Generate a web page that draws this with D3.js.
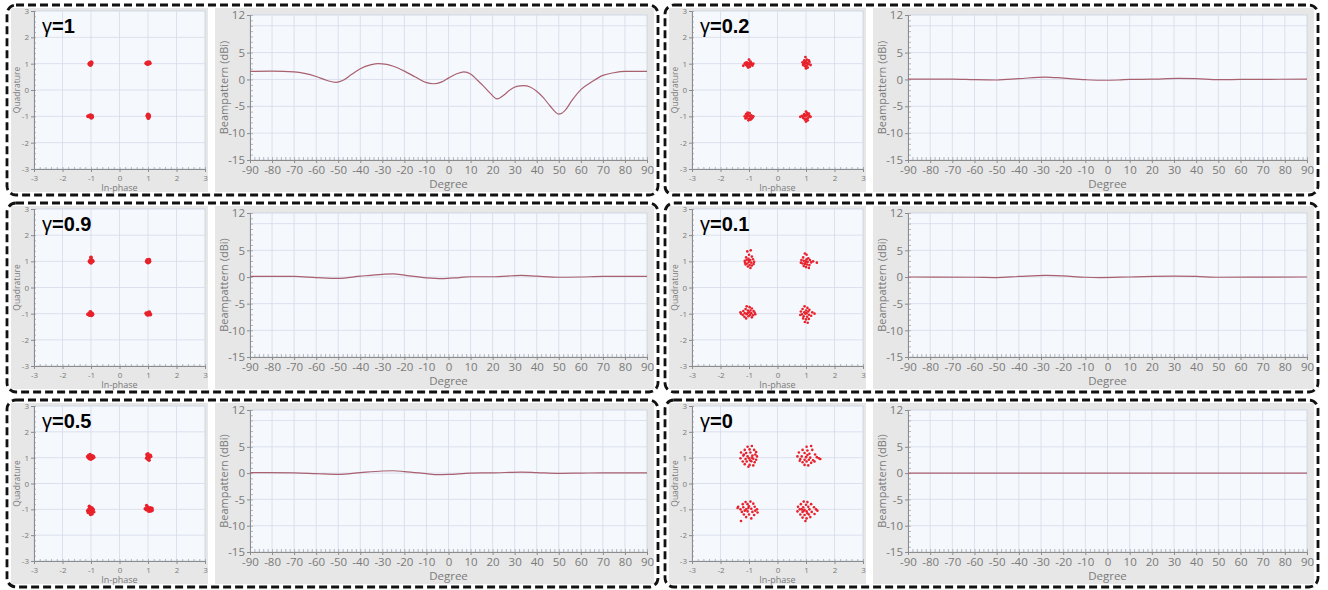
<!DOCTYPE html>
<html>
<head>
<meta charset="utf-8">
<script src="https://cdn.jsdelivr.net/npm/d3@7"></script>
<style>
  body { margin: 0; background: #fff; }
  svg { display: block; }
</style>
</head>
<body>
<svg id="chart" width="1328" height="590"></svg>
<script>
// gamma labels, panel order: row by row, left then right
const gammaLabels = ['1', '0.2', '0.9', '0.1', '0.5', '0'];

// constellation points (In-phase, Quadrature) per gamma
const iqG1 = [
  [-1.04,1.02],[-1.0,0.98],[-0.98,1.03],[-1.06,0.99],[-1.02,0.95],[-0.99,1.05],[-1.03,1.0],[-1.01,1.01],
  [0.94,1.02],[0.98,1.04],[1.02,1.03],[1.06,1.02],[1.0,0.99],[0.97,1.0],[1.04,1.05],[1.01,1.02],
  [-1.1,-1.0],[-1.05,-0.99],[-1.0,-1.02],[-0.97,-0.98],[-0.96,-1.03],[-1.02,-0.96],[-0.99,-1.05],[-1.03,-1.01],
  [1.0,-0.93],[1.03,-0.96],[0.99,-1.0],[1.02,-1.04],[1.04,-0.99],[0.98,-0.97],[1.01,-1.06],[1.03,-1.01]
];
const iqG09 = [
  [-1.0,1.15],[-1.02,1.03],[-0.98,0.99],[-1.05,1.0],[-0.96,1.02],[-1.0,0.95],[-1.03,0.97],[-0.99,1.04],[-0.94,1.0],
  [0.98,1.05],[1.02,1.03],[1.05,1.0],[0.96,1.0],[1.0,0.96],[1.03,0.97],[0.99,1.01],[1.04,1.06],[0.97,0.98],
  [-1.1,-1.02],[-1.04,-0.98],[-1.0,-1.03],[-0.97,-0.99],[-1.02,-0.94],[-0.98,-1.06],[-1.05,-1.05],[-0.95,-1.02],[-1.01,-1.0],
  [0.94,-0.98],[0.98,-1.0],[1.02,-0.97],[1.06,-1.01],[1.0,-1.04],[1.04,-0.95],[0.97,-1.03],[1.08,-1.03],[1.01,-0.99]
];
const iqG05 = [
  [-1.12,1.05],[-1.08,1.1],[-1.05,1.0],[-1.02,1.07],[-0.98,1.03],[-0.94,0.98],[-0.9,1.02],[-1.0,0.94],[-1.06,0.96],[-0.96,1.08],[-1.1,1.0],[-1.03,1.12],[-0.92,1.06],[-1.0,1.0],
  [0.96,1.12],[1.0,1.15],[1.05,1.08],[1.08,1.1],[0.98,1.04],[1.03,1.0],[1.06,1.03],[0.95,0.98],[1.0,0.93],[1.04,0.9],[1.1,1.05],[0.99,1.07],[1.02,0.97],[0.97,1.01],
  [-1.12,-1.05],[-1.06,-0.88],[-1.02,-0.92],[-0.96,-0.95],[-1.08,-1.0],[-1.0,-1.02],[-0.94,-1.05],[-1.04,-1.1],[-0.98,-1.14],[-1.1,-1.12],[-1.02,-1.2],[-0.9,-1.1],[-1.06,-0.98],[-0.96,-1.18],[-1.0,-1.08],[-0.92,-1.0],
  [0.9,-0.98],[0.95,-0.85],[0.96,-0.95],[1.0,-0.92],[1.04,-0.96],[1.08,-0.94],[1.12,-1.0],[1.15,-1.04],[1.06,-1.02],[1.0,-1.04],[0.94,-1.02],[1.1,-1.07],[1.03,-1.08],[1.14,-0.96],[0.98,-1.0]
];
const iqG02 = [
  [-1.2,0.92],[-1.15,1.0],[-1.1,0.95],[-1.08,1.05],[-1.05,0.9],[-1.02,1.0],[-0.98,0.95],[-0.95,1.08],[-0.92,0.98],[-0.88,0.93],[-0.85,1.0],[-1.0,1.15],[-1.03,0.85],[-0.97,0.88],[-1.12,1.03],[-0.93,1.03],[-1.06,0.97],[-1.0,1.02],
  [0.88,1.05],[0.9,0.95],[0.94,1.12],[0.96,1.0],[0.98,1.25],[1.0,1.08],[1.02,0.92],[1.04,1.02],[1.06,0.85],[1.08,0.98],[1.12,1.06],[1.16,0.95],[0.92,1.0],[1.0,0.82],[0.97,0.9],[1.1,1.12],[1.03,1.15],[0.95,1.04],
  [-1.15,-1.0],[-1.1,-0.92],[-1.08,-1.06],[-1.04,-0.95],[-1.0,-1.1],[-0.98,-0.88],[-0.96,-1.02],[-0.92,-0.96],[-0.88,-1.05],[-0.85,-1.0],[-1.02,-1.15],[-0.94,-1.12],[-1.06,-1.0],[-1.12,-1.08],[-0.99,-0.98],[-0.9,-1.08],[-1.05,-0.86],
  [0.8,-1.02],[0.86,-0.98],[0.9,-1.06],[0.94,-0.92],[0.98,-1.0],[1.0,-0.82],[1.02,-1.1],[1.05,-0.95],[1.08,-1.05],[1.12,-0.98],[1.16,-1.02],[0.96,-1.12],[1.0,-1.2],[1.04,-0.88],[0.92,-1.0],[1.1,-0.9],[1.06,-1.15],[0.97,-0.96]
];
const iqG01 = [
  [-1.06,1.38],[-0.94,1.42],[-1.0,1.25],[-1.1,1.15],[-0.9,1.18],[-1.15,1.02],[-1.08,1.05],[-1.02,1.1],[-0.96,1.05],[-0.86,1.08],[-0.82,0.98],[-0.92,0.95],[-1.0,0.98],[-1.06,0.92],[-1.12,0.88],[-0.98,0.86],[-0.9,0.84],[-1.04,0.8],[-0.95,0.75],[-1.14,0.95],[-0.84,0.9],[-1.0,1.02],
  [0.96,1.3],[1.02,1.25],[0.9,1.15],[1.08,1.12],[1.14,1.05],[0.84,1.05],[0.92,1.02],[1.0,1.0],[1.06,0.98],[1.18,0.96],[1.38,0.95],[0.88,0.92],[0.96,0.9],[1.04,0.88],[1.12,0.86],[0.92,0.82],[1.0,0.78],[1.1,0.75],[0.82,0.95],[1.25,1.0],[1.02,1.08],[0.98,0.95],
  [-1.08,-0.72],[-0.98,-0.75],[-1.12,-0.82],[-0.9,-0.8],[-1.2,-0.9],[-1.04,-0.88],[-0.84,-0.9],[-1.3,-0.95],[-1.15,-0.98],[-1.0,-0.95],[-0.92,-0.98],[-0.8,-0.96],[-1.22,-1.05],[-1.08,-1.02],[-0.96,-1.05],[-0.86,-1.06],[-1.16,-1.12],[-1.02,-1.1],[-0.9,-1.14],[-1.1,-1.18],[-1.28,-1.0],[-0.95,-0.88],[-1.05,-0.98],[-0.78,-1.02],
  [0.95,-0.72],[1.05,-0.78],[0.88,-0.82],[1.12,-0.85],[1.0,-0.88],[0.82,-0.92],[0.94,-0.95],[1.08,-0.92],[1.22,-0.95],[1.3,-1.0],[0.86,-1.02],[0.98,-1.0],[1.1,-1.04],[0.92,-1.1],[1.04,-1.12],[1.18,-1.08],[0.9,-1.18],[1.0,-1.22],[1.1,-1.2],[0.96,-1.32],[1.06,-1.35],[0.8,-1.05],[1.02,-0.98]
];
const iqG0 = [
  [-1.05,1.42],[-0.9,1.45],[-1.15,1.3],[-0.98,1.32],[-0.82,1.3],[-1.28,1.2],[-1.1,1.18],[-0.95,1.2],[-0.75,1.22],[-1.2,1.08],[-1.05,1.05],[-0.88,1.08],[-0.72,1.05],[-1.3,0.98],[-1.12,0.95],[-1.0,0.98],[-0.85,0.96],[-0.75,0.92],[-1.22,0.85],[-1.08,0.85],[-0.92,0.86],[-0.8,0.82],[-1.15,0.75],[-0.98,0.72],[-0.85,0.7],[-1.02,0.65],[-0.9,1.0],[-1.18,1.12],[-0.96,0.9],[-0.78,1.12],
  [1.02,1.42],[1.18,1.45],[0.88,1.3],[1.05,1.28],[1.22,1.3],[0.75,1.2],[0.95,1.18],[1.12,1.15],[1.32,1.12],[0.7,1.05],[0.85,1.05],[1.0,1.02],[1.15,1.0],[1.38,1.02],[0.8,0.95],[0.95,0.92],[1.1,0.92],[1.25,0.9],[1.5,0.95],[0.88,0.82],[1.02,0.85],[1.18,0.8],[0.95,0.72],[1.08,0.7],[1.3,0.85],[0.78,0.88],[1.45,0.98],[1.05,1.1],
  [-1.12,-0.72],[-0.95,-0.7],[-1.22,-0.8],[-1.05,-0.8],[-0.85,-0.78],[-1.38,-0.9],[-1.2,-0.92],[-1.0,-0.88],[-0.8,-0.9],[-1.3,-1.0],[-1.1,-1.0],[-0.92,-0.98],[-0.72,-1.0],[-1.25,-1.1],[-1.05,-1.08],[-0.88,-1.1],[-0.7,-1.12],[-1.18,-1.2],[-1.0,-1.2],[-0.82,-1.22],[-1.1,-1.3],[-0.92,-1.35],[-1.28,-1.45],[-1.4,-0.95],[-1.02,-0.95],[-0.78,-1.05],[-1.15,-1.05],
  [0.92,-0.7],[1.05,-0.72],[0.82,-0.8],[1.0,-0.82],[1.18,-0.8],[0.72,-0.9],[0.9,-0.92],[1.08,-0.9],[1.28,-0.92],[0.78,-1.0],[0.95,-1.02],[1.12,-1.0],[1.35,-1.0],[0.7,-1.08],[0.88,-1.1],[1.02,-1.08],[1.2,-1.1],[0.8,-1.2],[0.95,-1.22],[1.1,-1.2],[1.3,-1.18],[0.88,-1.32],[1.02,-1.35],[1.15,-1.3],[0.98,-1.45],[1.4,-1.05],[0.85,-1.0],[1.05,-1.15],[0.92,-1.05]
];

// beampattern (degree, dBi) per gamma
const beamG1 = [[-90,1.5],[-80,1.55],[-70,1.4],[-60,0.55],[-55,-0.2],[-51,-0.55],[-48,-0.2],[-44,0.9],[-40,2.0],[-35,2.75],[-32,2.95],[-28,2.8],[-25,2.45],[-20,1.55],[-15,0.45],[-10,-0.6],[-7,-0.8],[-3,-0.45],[0,0.25],[4,1.1],[7,1.4],[10,1.0],[13,-0.1],[16,-1.3],[19,-2.6],[22,-3.6],[25,-2.95],[28,-1.9],[31,-1.3],[34,-1.15],[37,-1.4],[40,-2.2],[43,-3.4],[46,-4.9],[50,-6.45],[53,-5.7],[56,-3.9],[60,-1.9],[65,-0.45],[70,0.75],[75,1.25],[80,1.5],[90,1.5]];
const beamG09 = [[-90,0.1],[-70,0.1],[-60,-0.1],[-50,-0.25],[-40,0.15],[-30,0.5],[-25,0.6],[-20,0.35],[-10,-0.15],[-3,-0.3],[5,-0.1],[10,0.05],[20,0.05],[33,0.3],[40,0.15],[50,-0.05],[60,0],[70,0.1],[90,0.1]];
const beamG05 = [[-90,0.1],[-70,0.05],[-60,-0.1],[-50,-0.25],[-40,0.1],[-30,0.4],[-25,0.45],[-20,0.3],[-10,-0.1],[-5,-0.3],[0,-0.25],[10,0],[20,0.05],[33,0.2],[40,0.1],[50,-0.05],[60,0],[70,0.05],[90,0.05]];
const beamG02 = [[-90,0.05],[-70,0.05],[-60,-0.05],[-50,-0.1],[-40,0.15],[-28,0.45],[-20,0.25],[-10,-0.05],[-3,-0.15],[5,-0.1],[10,0],[20,0.05],[32,0.2],[40,0.15],[50,-0.05],[60,0],[90,0.05]];
const beamG01 = [[-90,0],[-60,-0.05],[-50,-0.1],[-40,0.1],[-28,0.3],[-20,0.2],[-10,-0.05],[-3,-0.1],[10,0],[30,0.15],[40,0.1],[50,-0.05],[90,0]];
const beamG0 = [[-90,0],[90,0]];

// tick labels
const iqTicks = [-3, -2, -1, 0, 1, 2, 3];
const degTicks = [-90, -80, -70, -60, -50, -40, -30, -20, -10, 0, 10, 20, 30, 40, 50, 60, 70, 80, 90];
const dbTicks = [12, 5, 0, -5, -10, -15];
const dbGrid = [10, 5, 0, -5, -10];

const panels = [
  { label: gammaLabels[0], iq: iqG1, beam: beamG1, dot: 2.0 },
  { label: gammaLabels[1], iq: iqG02, beam: beamG02, dot: 1.4 },
  { label: gammaLabels[2], iq: iqG09, beam: beamG09, dot: 2.0 },
  { label: gammaLabels[3], iq: iqG01, beam: beamG01, dot: 1.3 },
  { label: gammaLabels[4], iq: iqG05, beam: beamG05, dot: 1.7 },
  { label: gammaLabels[5], iq: iqG0, beam: beamG0, dot: 1.3 }
];

const colX = [7, 665];
const panelW = [651, 653];
const rowY = [5, 203, 400];
const rowH = [190, 189, 187];

const grey = '#e7e7e7';
const plotBg = '#f5f8fd';
const gridColor = '#d5dbe8';
const axisColor = '#8c8c8c';
const labelColor = '#7a7a7a';
const sansFont = "'Open Sans', 'Noto Sans', sans-serif";
const plain = d => String(d);   // hyphen minus, no decimals

const svg = d3.select('#chart');

function styleAxis(sel, size) {
  sel.select('.domain').attr('stroke', axisColor);
  sel.selectAll('.tick line').attr('stroke', axisColor);
  sel.selectAll('.tick text')
    .attr('fill', labelColor)
    .attr('font-size', size)
    .attr('font-family', sansFont);
}

panels.forEach((p, i) => {
  const col = i % 2, row = Math.floor(i / 2);
  const w = panelW[col], h = rowH[row];
  const g = svg.append('g').attr('transform', `translate(${colX[col]},${rowY[row]})`);

  // grey backgrounds
  g.append('rect').attr('x', 4).attr('y', 3).attr('width', 197).attr('height', h - 6).attr('fill', grey);
  g.append('rect').attr('x', 208).attr('y', 3).attr('width', w - 212).attr('height', h - 6).attr('fill', grey);

  // ---- constellation ----
  const sx = d3.scaleLinear().domain([-3, 3]).range([27, 198]);
  const sy = d3.scaleLinear().domain([-3, 3]).range([h - 26, 6]);
  const sc = g.append('g');

  sc.append('rect')
    .attr('x', sx(-3)).attr('y', sy(3))
    .attr('width', sx(3) - sx(-3)).attr('height', sy(-3) - sy(3))
    .attr('fill', plotBg).attr('stroke', '#c9d1e0').attr('stroke-width', 0.8);

  sc.append('g').selectAll('line').data(iqTicks.slice(1, -1)).join('line')
    .attr('x1', d => sx(d)).attr('x2', d => sx(d))
    .attr('y1', sy(3)).attr('y2', sy(-3))
    .attr('stroke', gridColor).attr('stroke-width', 0.8);
  sc.append('g').selectAll('line').data(iqTicks.slice(1, -1)).join('line')
    .attr('y1', d => sy(d)).attr('y2', d => sy(d))
    .attr('x1', sx(-3)).attr('x2', sx(3))
    .attr('stroke', gridColor).attr('stroke-width', 0.8);

  // minor ticks
  sc.append('g').attr('transform', `translate(0,${sy(-3)})`)
    .call(d3.axisBottom(sx).tickValues(d3.range(-3, 3.01, 0.2)).tickSize(-2).tickFormat(''))
    .call(s => { s.select('.domain').remove(); s.selectAll('line').attr('stroke', axisColor).attr('stroke-width', 0.6); });
  sc.append('g').attr('transform', `translate(${sx(-3)},0)`)
    .call(d3.axisLeft(sy).tickValues(d3.range(-3, 3.01, 0.2)).tickSize(-2).tickFormat(''))
    .call(s => { s.select('.domain').remove(); s.selectAll('line').attr('stroke', axisColor).attr('stroke-width', 0.6); });

  sc.append('g').attr('transform', `translate(0,${sy(-3)})`)
    .call(d3.axisBottom(sx).tickValues(iqTicks).tickFormat(plain).tickSize(3).tickPadding(3))
    .call(s => styleAxis(s, 8));
  sc.append('g').attr('transform', `translate(${sx(-3)},0)`)
    .call(d3.axisLeft(sy).tickValues(iqTicks).tickFormat(plain).tickSize(3).tickPadding(2))
    .call(s => styleAxis(s, 8));

  sc.append('text')
    .attr('x', (sx(-3) + sx(3)) / 2).attr('y', h - 4)
    .attr('text-anchor', 'middle').attr('font-size', 9).attr('font-family', sansFont)
    .attr('fill', labelColor).text('In-phase');
  sc.append('text')
    .attr('transform', `translate(13,${(sy(-3) + sy(3)) / 2}) rotate(-90)`)
    .attr('text-anchor', 'middle').attr('font-size', 8.5).attr('font-family', sansFont)
    .attr('fill', labelColor).text('Quadrature');

  sc.append('g').selectAll('circle').data(p.iq).join('circle')
    .attr('cx', d => sx(d[0])).attr('cy', d => sy(d[1]))
    .attr('r', p.dot).attr('fill', '#e8212b');

  const title = sc.append('text').attr('x', 35).attr('y', 28)
    .attr('font-family', "'Liberation Sans', Arial, sans-serif").attr('font-size', 20).attr('fill', '#000');
  title.append('tspan').text('γ');
  title.append('tspan').attr('font-weight', 'bold').text('=' + p.label);

  // ---- beampattern ----
  const lx = d3.scaleLinear().domain([-90, 90]).range([243, w - 11]);
  const ly = d3.scaleLinear().domain([-15, 12]).range([h - 35, 10]);
  const lc = g.append('g');

  lc.append('rect')
    .attr('x', lx(-90)).attr('y', ly(12))
    .attr('width', lx(90) - lx(-90)).attr('height', ly(-15) - ly(12))
    .attr('fill', plotBg).attr('stroke', '#c9d1e0').attr('stroke-width', 0.8);

  lc.append('g').selectAll('line').data(degTicks.slice(1, -1)).join('line')
    .attr('x1', d => lx(d)).attr('x2', d => lx(d))
    .attr('y1', ly(12)).attr('y2', ly(-15))
    .attr('stroke', gridColor).attr('stroke-width', 0.8);
  lc.append('g').selectAll('line').data(dbGrid).join('line')
    .attr('y1', d => ly(d)).attr('y2', d => ly(d))
    .attr('x1', lx(-90)).attr('x2', lx(90))
    .attr('stroke', gridColor).attr('stroke-width', 0.8);

  lc.append('g').attr('transform', `translate(0,${ly(-15)})`)
    .call(d3.axisBottom(lx).tickValues(d3.range(-90, 91, 2)).tickSize(-3).tickFormat(''))
    .call(s => { s.select('.domain').remove(); s.selectAll('line').attr('stroke', axisColor).attr('stroke-width', 0.6); });
  lc.append('g').attr('transform', `translate(${lx(-90)},0)`)
    .call(d3.axisLeft(ly).tickValues(d3.range(-15, 12.1, 1)).tickSize(-3).tickFormat(''))
    .call(s => { s.select('.domain').remove(); s.selectAll('line').attr('stroke', axisColor).attr('stroke-width', 0.6); });

  lc.append('g').attr('transform', `translate(0,${ly(-15)})`)
    .call(d3.axisBottom(lx).tickValues(degTicks).tickFormat(plain).tickSize(3).tickPadding(3))
    .call(s => styleAxis(s, 11.5));
  lc.append('g').attr('transform', `translate(${lx(-90)},0)`)
    .call(d3.axisLeft(ly).tickValues(dbTicks).tickFormat(plain).tickSize(3).tickPadding(2))
    .call(s => styleAxis(s, 11.5));

  lc.append('text')
    .attr('x', (lx(-90) + lx(90)) / 2).attr('y', h - 7)
    .attr('text-anchor', 'middle').attr('font-size', 11.5).attr('font-family', sansFont)
    .attr('fill', labelColor).text('Degree');
  lc.append('text')
    .attr('transform', `translate(221,${(ly(-15) + ly(12)) / 2}) rotate(-90)`)
    .attr('text-anchor', 'middle').attr('font-size', 11).attr('font-family', sansFont)
    .attr('fill', labelColor).text('Beampattern (dBi)');

  lc.append('path')
    .datum(p.beam)
    .attr('fill', 'none')
    .attr('stroke', '#a9606f')
    .attr('stroke-width', 1.2)
    .attr('d', d3.line().curve(d3.curveMonotoneX).x(d => lx(d[0])).y(d => ly(d[1])));

  // dashed frame
  g.append('rect')
    .attr('x', 0).attr('y', 0).attr('width', w).attr('height', h).attr('rx', 9)
    .attr('fill', 'none').attr('stroke', '#111')
    .attr('stroke-width', 2.8).attr('stroke-dasharray', '8 4');
});
</script>
</body>
</html>
